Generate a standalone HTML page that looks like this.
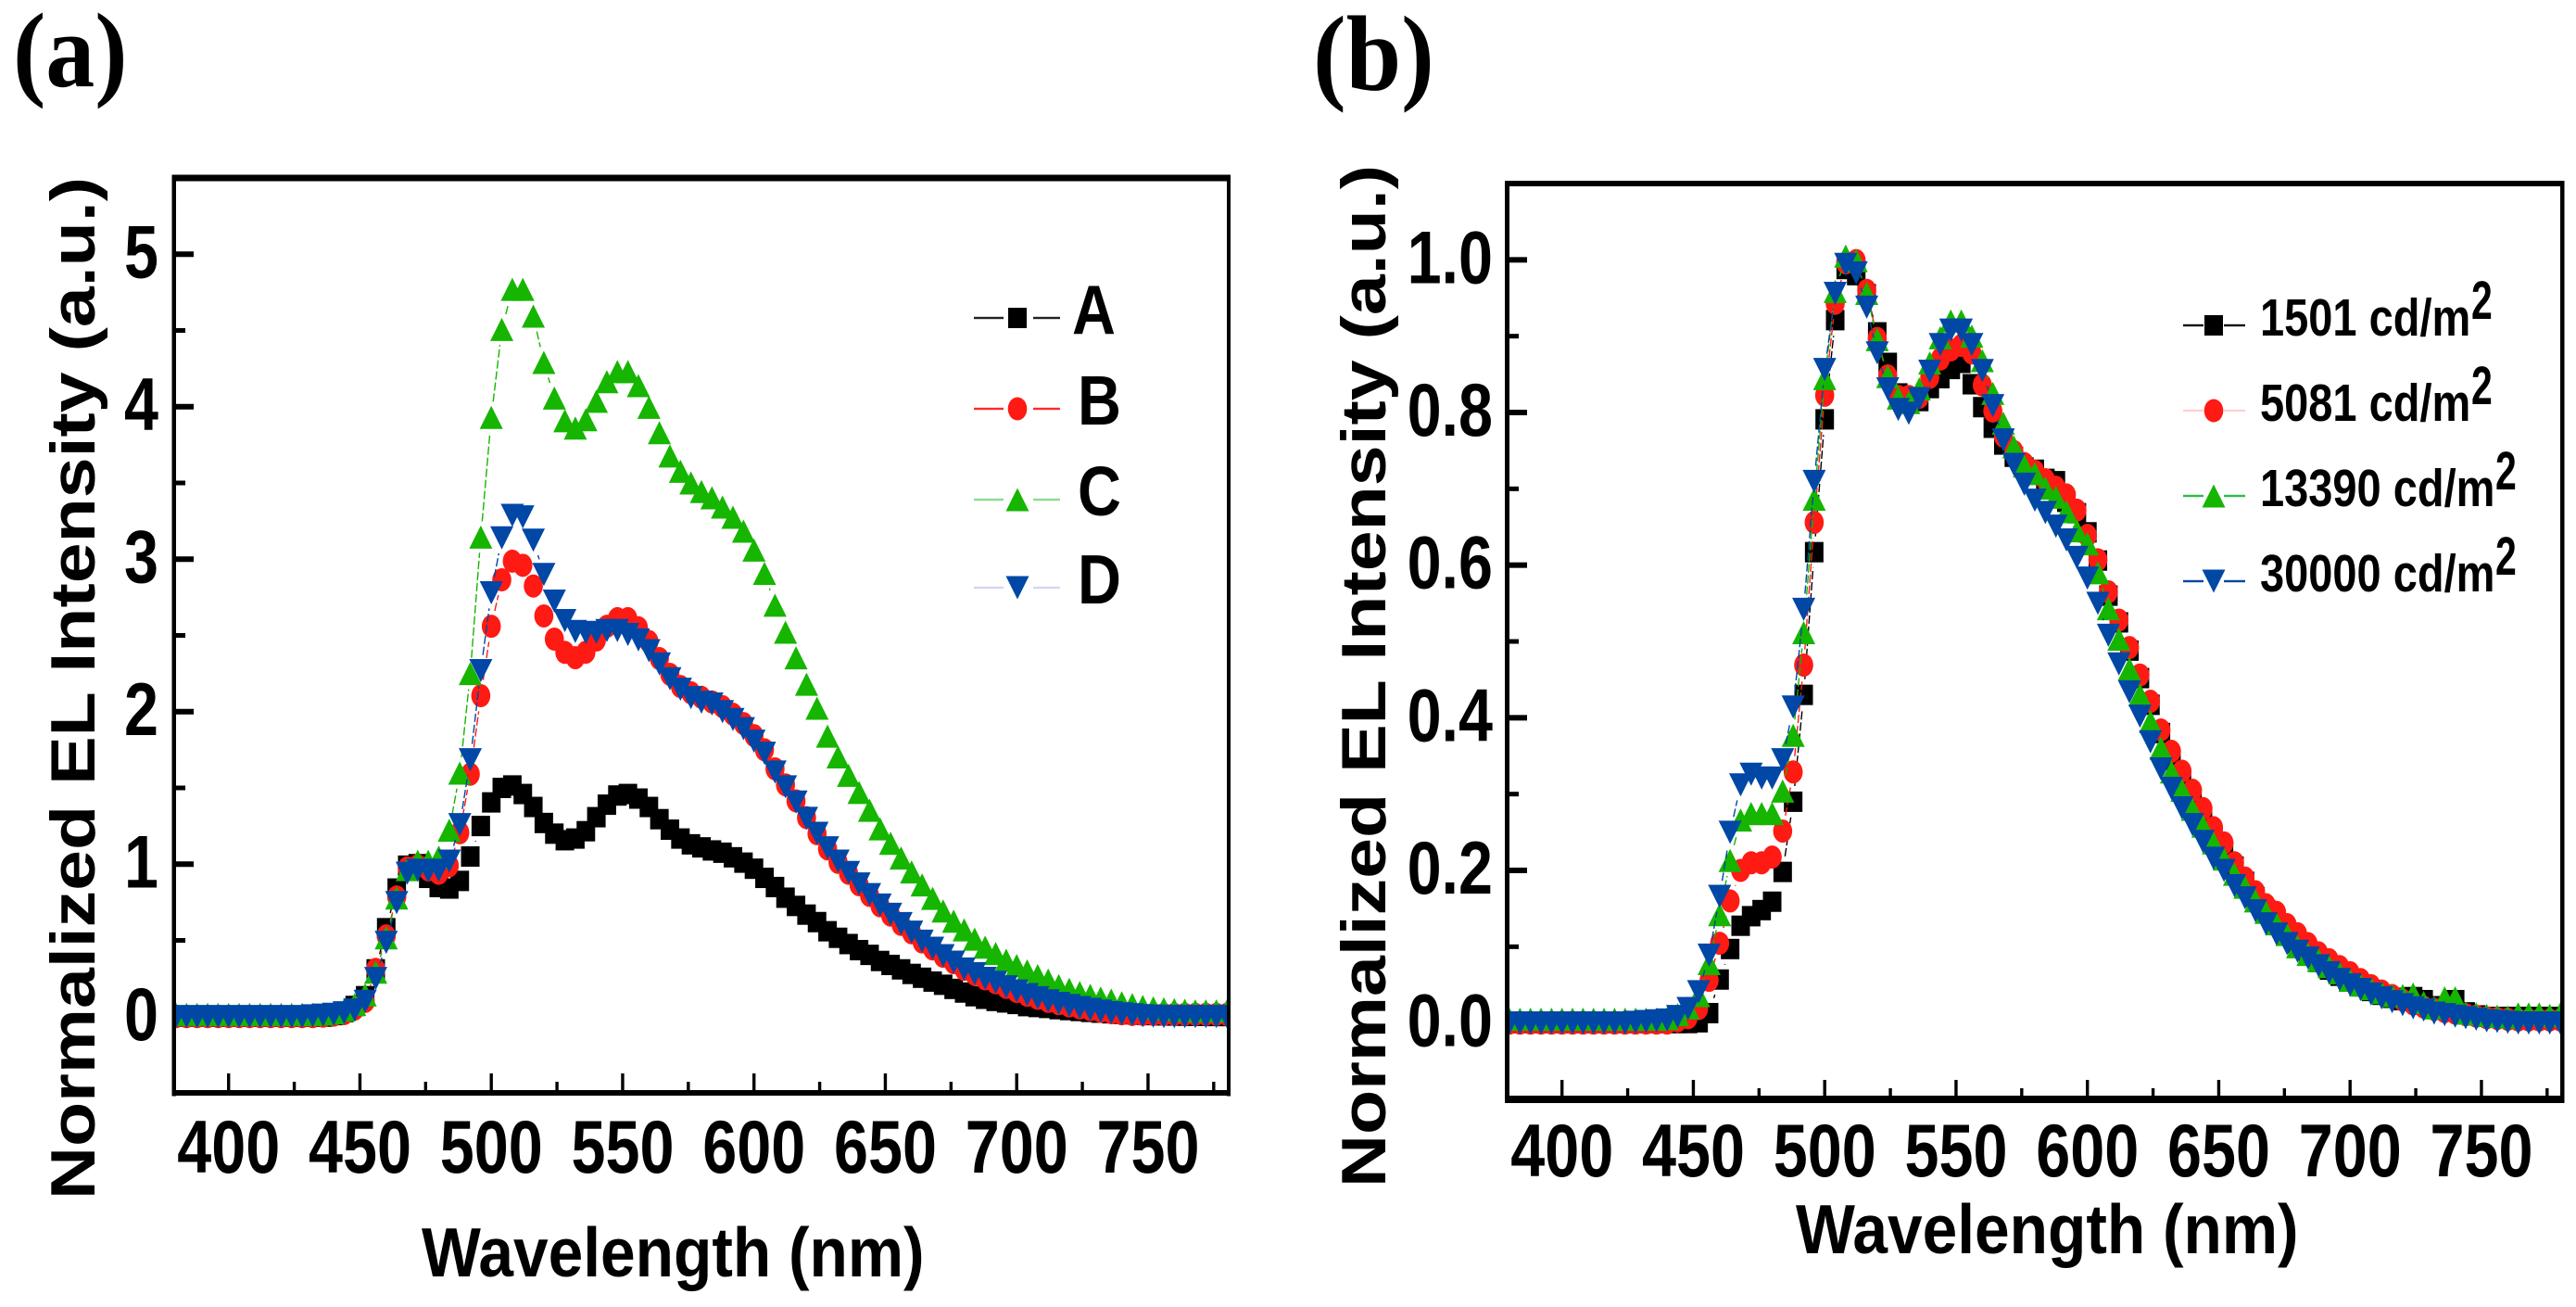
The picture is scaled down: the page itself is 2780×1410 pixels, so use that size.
<!DOCTYPE html>
<html lang="en">
<head>
<meta charset="utf-8">
<title>Normalized EL spectra</title>
<style>
html,body{margin:0;padding:0;background:#fff;width:2780px;height:1410px;overflow:hidden}
svg{display:block}
text{font-family:"Liberation Sans",Arial,sans-serif;font-weight:bold;fill:#000}
.serif{font-family:"Liberation Serif","Times New Roman",serif}
</style>
</head>
<body>
<svg id="figure" xmlns="http://www.w3.org/2000/svg" width="2780" height="1410" viewBox="0 0 2780 1410">
  <rect x="0" y="0" width="2780" height="1410" fill="#fff"/>
  <text class="serif" font-size="106" transform="translate(14,93) scale(1,1.08)">(a)</text>
  <text class="serif" font-size="107" transform="translate(1417,97) scale(1,1.08)">(b)</text>

  <g id="panel-a"></g>
  <g id="panel-b"></g>

  <text font-size="68" textLength="1103" lengthAdjust="spacingAndGlyphs" transform="translate(102,1294) rotate(-90)">Normalized EL Intensity (a.u.)</text>
  <text font-size="66.8" transform="translate(455,1377) scale(1.013,1.12)">Wavelength (nm)</text>
  <text font-size="68" textLength="1103" lengthAdjust="spacingAndGlyphs" transform="translate(1495,1281) rotate(-90)">Normalized EL Intensity (a.u.)</text>
  <text font-size="66.8" transform="translate(1938,1352) scale(1.013,1.12)">Wavelength (nm)</text>
</svg>

<script>
const wavelengths = [
380,384,388,392,396,400,404,408,412,416,420,424,428,432,
436,440,444,448,452,456,460,464,468,472,
476,480,484,488,492,496,500,504,508,512,
516,520,524,528,532,536,540,544,548,552,
556,560,564,568,572,576,580,584,588,592,
596,600,604,608,612,616,620,624,628,632,
636,640,644,648,652,656,660,664,668,672,
676,680,684,688,692,696,700,704,708,712,
716,720,724,728,732,736,740,744,748,752,
756,760,764,768,772,776,780];

const seriesA = [
0,0,0,0,0,0,0,0,0,0,0,0,0,0,
0,.01,.03,.07,.134,.31,.58,.84,.99,1.0,
.91,.85,.84,.89,1.05,1.25,1.405,1.5,1.516,1.46,
1.375,1.27,1.2,1.157,1.168,1.216,1.308,1.39,1.45,1.46,
1.43,1.375,1.295,1.226,1.168,1.13,1.11,1.09,1.075,1.045,
1.01,.97,.91,.85,.78,.726,.669,.62,.56,.517,
.476,.436,.405,.365,.339,.31,.28,.255,.23,.209,
.182,.158,.134,.117,.103,.093,.083,.069,.063,.057,
.049,.043,.037,.031,.026,.022,.018,.015,.012,.01,
.008,.007,.006,.005,.005,.004,.004];

const seriesB = [
0,0,0,0,0,0,0,0,0,0,0,0,0,0,
.003,.01,.02,.05,.10,.31,.53,.785,.975,.99,
.963,.94,.99,1.206,1.59,2.105,2.56,2.865,2.987,2.96,
2.824,2.628,2.476,2.389,2.354,2.39,2.47,2.56,2.61,2.61,
2.55,2.46,2.348,2.245,2.165,2.124,2.094,2.064,2.033,1.983,
1.922,1.843,1.75,1.625,1.52,1.415,1.305,1.2,1.1,1.012,
.94,.865,.795,.727,.666,.605,.55,.49,.444,.396,
.354,.31,.278,.248,.222,.192,.165,.14,.12,.1,
.085,.07,.057,.046,.035,.026,.019,.015,.015,.015,
.015,.015,.015,.015,.015,.015,.015];

const seriesC = [
.015,.015,.015,.015,.015,.015,.015,.015,.015,.015,.015,.015,.015,.015,
.018,.025,.045,.08,.143,.292,.517,.778,.964,1.019,
1.019,1.046,1.223,1.597,2.25,3.145,3.93,4.507,4.77,4.77,
4.594,4.29,4.057,3.908,3.86,3.915,4.036,4.164,4.23,4.23,
4.138,3.996,3.83,3.677,3.577,3.5,3.444,3.403,3.342,3.275,
3.184,3.06,2.907,2.698,2.521,2.353,2.18,2.023,1.84,1.704,
1.583,1.47,1.353,1.232,1.137,1.04,.949,.864,.776,.693,
.626,.569,.508,.456,.414,.37,.335,.30,.27,.24,
.204,.179,.158,.14,.122,.109,.091,.079,.067,.058,
.052,.046,.042,.038,.038,.038,.038];

const seriesD = [
0,0,0,0,0,0,0,0,0,0,0,0,0,.005,
.01,.015,.025,.043,.10,.25,.487,.748,.94,.96,
.955,.96,1.02,1.259,1.685,2.269,2.78,3.14,3.287,3.277,
3.125,2.90,2.725,2.597,2.526,2.518,2.52,2.532,2.532,2.506,
2.47,2.4,2.313,2.216,2.147,2.092,2.062,2.05,2.0,1.948,
1.888,1.806,1.727,1.604,1.507,1.407,1.30,1.2025,1.107,1.02,
.945,.87,.80,.732,.671,.61,.554,.495,.448,.40,
.357,.312,.282,.251,.225,.195,.168,.144,.124,.103,
.087,.073,.059,.047,.036,.026,.018,.012,.006,.003,
0,0,0,0,0,0,0];

const series1501 = [
0,0,0,0,0,0,0,0,0,0,0,0,0,0,
0,0,0,0,.001,.013,.057,.097,.1275,.14,
.148,.159,.198,.29,.43,.617,.791,.921,.988,.98,
.955,.905,.865,.825,.82,.815,.832,.845,.857,.865,
.837,.807,.78,.758,.742,.728,.725,.713,.71,.683,
.668,.643,.606,.56,.525,.488,.452,.417,.38,.345,
.32,.295,.27,.245,.225,.205,.185,.165,.148,.13,
.115,.102,.09,.08,.07,.062,.055,.048,.042,.037,
.033,.03,.034,.03,.022,.022,.03,.014,.01,.008,
.008,.008,.008,.008,.008,.008,.008];

const series5081 = [
0,0,0,0,0,0,0,0,0,0,0,0,0,0,
0,0,.003,.007,.019,.056,.1045,.16,.2,.21,
.21,.2175,.2515,.329,.469,.656,.8226,.943,.996,.999,
.96,.897,.848,.821,.821,.82,.846,.87,.882,.888,
.878,.836,.802,.769,.749,.733,.723,.712,.702,.692,
.672,.639,.607,.565,.528,.492,.456,.4216,.384,.356,
.33,.305,.281,.256,.236,.21,.19,.172,.155,.145,
.129,.117,.104,.092,.083,.074,.066,.057,.049,.042,
.036,.03,.025,.021,.018,.015,.013,.011,.009,.007,
.006,.005,.004,.004,.004,.004,.004];

const series13390 = [
.005,.005,.005,.005,.005,.005,.005,.005,.005,.005,.005,.005,.005,.005,
.005,.006,.011,.02,.036,.078,.142,.213,.266,.2746,
.2746,.2746,.304,.377,.5115,.6865,.8445,.9587,1.005,.999,
.956,.8955,.847,.819,.813,.831,.865,.898,.92,.92,
.9,.868,.825,.786,.755,.73,.72,.701,.689,.67,
.645,.628,.59,.543,.503,.464,.43,.395,.36,.329,
.305,.28,.258,.236,.215,.195,.178,.16,.145,.13,
.116,.1,.09,.082,.074,.066,.056,.05,.045,.04,
.036,.036,.038,.027,.02,.033,.033,.013,.012,.01,
.009,.008,.012,.012,.012,.01,.012];

const series30000 = [
0,0,0,0,0,0,0,0,0,0,0,0,.001,.002,
.003,.004,.0085,.019,.041,.089,.166,.25,.312,.326,
.321,.321,.345,.414,.542,.7096,.8564,.956,.994,.983,
.938,.878,.831,.804,.799,.818,.854,.889,.908,.908,
.889,.855,.809,.764,.732,.706,.685,.669,.651,.633,
.61,.583,.55,.508,.4705,.434,.402,.3685,.333,.3075,
.282,.26,.238,.216,.2,.18,.164,.147,.13,.1165,
.104,.094,.085,.075,.066,.057,.05,.044,.038,.033,
.028,.024,.02,.017,.013,.011,.009,.007,.005,.003,
.002,.001,0,0,0,0,0];

const xMajorTicks = [400,450,500,550,600,650,700,750];
const xMinorTicks = [425,475,525,575,625,675,725,775];
const yMajorTicksA = [0,1,2,3,4,5];
const yMinorTicksA = [0.5,1.5,2.5,3.5,4.5];
const yTickLabelsA = ['0','1','2','3','4','5'];
const yMajorTicksB = [0,0.2,0.4,0.6,0.8,1.0];
const yMinorTicksB = [0.1,0.3,0.5,0.7,0.9];
const yTickLabelsB = ['0.0','0.2','0.4','0.6','0.8','1.0'];
const legendNamesA = ['A','B','C','D'];
const legendNamesB = ['1501','5081','13390','30000'];

const NS = 'http://www.w3.org/2000/svg';
const COLORS = {black:'#000000', red:'#ff1a14', green:'#16b500', blue:'#0047a6'};
const LINE_GAP = 17;

function make(parent, tag, attrs) {
  const el = document.createElementNS(NS, tag);
  for (const k in attrs) el.setAttribute(k, attrs[k]);
  parent.appendChild(el);
  return el;
}

function drawMarker(parent, shape, cx, cy, color) {
  let el;
  if (shape === 'square') {
    el = make(parent, 'rect', {x: cx - 10, y: cy - 11, width: 20, height: 22, fill: color});
  } else if (shape === 'circle') {
    el = make(parent, 'ellipse', {cx: cx, cy: cy, rx: 10.3, ry: 12.5, fill: color});
  } else if (shape === 'up') {
    el = make(parent, 'polygon', {points: (cx - 12.5) + ',' + (cy + 12.5) + ' ' + (cx + 12.5) + ',' + (cy + 12.5) + ' ' + cx + ',' + (cy - 12.5), fill: color});
  } else {
    el = make(parent, 'polygon', {points: (cx - 12.5) + ',' + (cy - 12.5) + ' ' + (cx + 12.5) + ',' + (cy - 12.5) + ' ' + cx + ',' + (cy + 12.5), fill: color});
  }
  
  
  return el;
}

function drawPanel(cfg) {
  const root = document.getElementById(cfg.id);
  const xScale = v => cfg.left + (v - 380) / 400 * (cfg.right - cfg.left);
  const yScale = v => cfg.bottom - (v - cfg.yMin) / (cfg.yMax - cfg.yMin) * (cfg.bottom - cfg.top);

  const axes = make(root, 'g', {});
  
  

  const w = cfg.frame;
  make(axes, 'rect', {x: cfg.left - w.left, y: cfg.top - w.top / 2, width: w.left, height: cfg.bottom - cfg.top + w.top}).setAttribute('fill', '#000');
  make(axes, 'rect', {x: cfg.right, y: cfg.top - w.top / 2, width: w.right, height: cfg.bottom - cfg.top + w.top}).setAttribute('fill', '#000');
  make(axes, 'rect', {x: cfg.left - w.left, y: cfg.top - w.top / 2, width: cfg.right - cfg.left + w.left + w.right, height: w.top}).setAttribute('fill', '#000');
  make(axes, 'rect', {x: cfg.left - w.left, y: cfg.bottom - w.bottom / 2, width: cfg.right - cfg.left + w.left + w.right, height: w.bottom}).setAttribute('fill', '#000');

  xMajorTicks.forEach(v => {
    const t = make(axes, 'rect', {x: xScale(v) - 1.7, y: cfg.bottom - 21, width: 3.4, height: 21, fill: '#000'});
    
    
    const lab = make(axes, 'text', {'font-size': 66.5, 'text-anchor': 'middle', transform: 'translate(' + xScale(v) + ',' + cfg.xLabelY + ') scale(1,1.22)'});
    lab.textContent = String(v);
    
    
  });
  xMinorTicks.forEach(v => {
    const t = make(axes, 'rect', {x: xScale(v) - 1.7, y: cfg.bottom - 12, width: 3.4, height: 12, fill: '#000'});
    
    
  });
  cfg.yMajor.forEach((v, i) => {
    const t = make(axes, 'rect', {x: cfg.left, y: yScale(v) - 3, width: 19, height: 6, fill: '#000'});
    
    
    const lab = make(axes, 'text', {'font-size': 66.5, 'text-anchor': 'end', transform: 'translate(' + cfg.yLabelX + ',' + (yScale(v) + 25) + ') scale(1,1.22)'});
    lab.textContent = cfg.yLabels[i];
    
    
  });
  cfg.yMinor.forEach(v => {
    const t = make(axes, 'rect', {x: cfg.left, y: yScale(v) - 2.5, width: 10, height: 5, fill: '#000'});
    
    
  });

  const clip = make(root, 'clipPath', {id: cfg.id + '-clip'});
  make(clip, 'rect', {x: cfg.left, y: cfg.top, width: cfg.right - cfg.left, height: cfg.bottom - cfg.top});
  const plot = make(root, 'g', {'clip-path': 'url(#' + cfg.id + '-clip)'});
  
  

  cfg.series.forEach(s => {
    const g = make(plot, 'g', {});
    
    
    for (let i = 1; i < s.values.length; i++) {
      const x1 = xScale(wavelengths[i - 1]), y1 = yScale(s.values[i - 1]);
      const x2 = xScale(wavelengths[i]), y2 = yScale(s.values[i]);
      const len = Math.hypot(x2 - x1, y2 - y1);
      if (len <= LINE_GAP * 2) continue;
      const ux = (x2 - x1) / len, uy = (y2 - y1) / len;
      const seg = make(g, 'line', {x1: x1 + ux * LINE_GAP, y1: y1 + uy * LINE_GAP, x2: x2 - ux * LINE_GAP, y2: y2 - uy * LINE_GAP, stroke: s.color, 'stroke-width': 1.4, 'stroke-dasharray': '9 3'});
      
      
    }
    s.values.forEach((v, i) => drawMarker(g, s.shape, xScale(wavelengths[i]), yScale(v), s.color));
  });
}

function drawLegend(cfg) {
  const root = document.getElementById(cfg.id);
  const g = make(root, 'g', {});
  
  
  cfg.entries.forEach(e => {
    const entry = make(g, 'g', {});
    
    
    make(entry, 'rect', {x: cfg.lineX1, y: e.y - 1.2, width: cfg.gapX1 - cfg.lineX1, height: 2.4, fill: e.lineColor});
    make(entry, 'rect', {x: cfg.gapX2, y: e.y - 1.2, width: cfg.lineX2 - cfg.gapX2, height: 2.4, fill: e.lineColor});
    drawMarker(entry, e.shape, cfg.markerX, e.y, e.color);
    const t = make(entry, 'text', {'font-size': cfg.fontSize, transform: 'translate(' + e.textX + ',' + (e.y + cfg.textDy) + ') scale(1,' + cfg.textScale + ')'});
    t.textContent = e.label;
    
    
    if (e.supX) {
      const sup = make(entry, 'text', {'font-size': 41, transform: 'translate(' + e.supX + ',' + (e.y + cfg.textDy - 18) + ') scale(1,1.43)'});
      sup.textContent = '2';
      
      
    }
  });
}

drawPanel({
  id: 'panel-a', left: 190, right: 1324, top: 192, bottom: 1179, yMin: -0.5, yMax: 5.5,
  frame: {left: 4.5, right: 4, top: 7, bottom: 6},
  xLabelY: 1265, yLabelX: 171,
  yMajor: yMajorTicksA, yMinor: yMinorTicksA, yLabels: yTickLabelsA,
  series: [
    {name: 'a', values: seriesA, color: COLORS.black, shape: 'square'},
    {name: 'b', values: seriesB, color: COLORS.red, shape: 'circle'},
    {name: 'c', values: seriesC, color: COLORS.green, shape: 'up'},
    {name: 'd', values: seriesD, color: COLORS.blue, shape: 'down'}
  ]
});

drawPanel({
  id: 'panel-b', left: 1629, right: 2763, top: 198, bottom: 1186, yMin: -0.1, yMax: 1.1,
  frame: {left: 5, right: 4.5, top: 6, bottom: 8},
  xLabelY: 1269, yLabelX: 1611,
  yMajor: yMajorTicksB, yMinor: yMinorTicksB, yLabels: yTickLabelsB,
  series: [
    {name: '1501', values: series1501, color: COLORS.black, shape: 'square'},
    {name: '5081', values: series5081, color: COLORS.red, shape: 'circle'},
    {name: '13390', values: series13390, color: COLORS.green, shape: 'up'},
    {name: '30000', values: series30000, color: COLORS.blue, shape: 'down'}
  ]
});

drawLegend({
  id: 'panel-a', lineX1: 1051, gapX1: 1083, gapX2: 1115, lineX2: 1144, markerX: 1098,
  fontSize: 65, textDy: 17, textScale: 1.16,
  entries: [
    {label: legendNamesA[0], y: 343, color: COLORS.black, lineColor: '#222222', shape: 'square', textX: 1157},
    {label: legendNamesA[1], y: 441, color: COLORS.red, lineColor: '#ff2a2a', shape: 'circle', textX: 1163},
    {label: legendNamesA[2], y: 539, color: COLORS.green, lineColor: '#8fd98f', shape: 'up', textX: 1163},
    {label: legendNamesA[3], y: 634, color: COLORS.blue, lineColor: '#d5d6ef', shape: 'down', textX: 1163}
  ]
});

drawLegend({
  id: 'panel-b', lineX1: 2356, gapX1: 2378, gapX2: 2400, lineX2: 2423, markerX: 2389,
  fontSize: 47, textDy: 11, textScale: 1.2,
  entries: [
    {label: legendNamesB[0] + ' cd/m', y: 351, color: COLORS.black, lineColor: '#111111', shape: 'square', textX: 2439, supX: 2667},
    {label: legendNamesB[1] + ' cd/m', y: 443, color: COLORS.red, lineColor: '#ffcfcf', shape: 'circle', textX: 2439, supX: 2667},
    {label: legendNamesB[2] + ' cd/m', y: 535, color: COLORS.green, lineColor: '#2bbb4a', shape: 'up', textX: 2439, supX: 2693},
    {label: legendNamesB[3] + ' cd/m', y: 627, color: COLORS.blue, lineColor: '#0047a6', shape: 'down', textX: 2439, supX: 2693}
  ]
});
</script>
</body>
</html>
